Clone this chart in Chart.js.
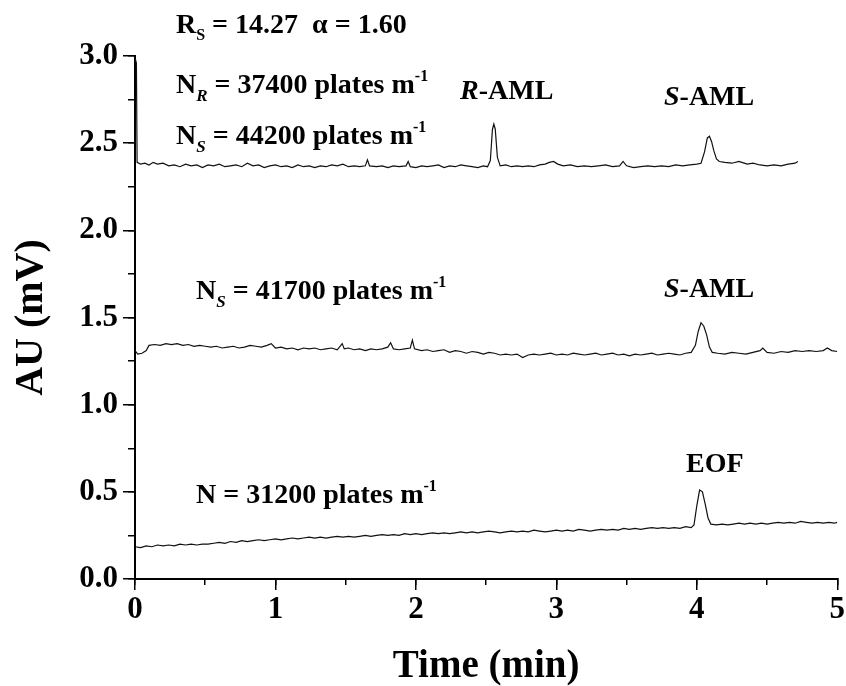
<!DOCTYPE html>
<html>
<head>
<meta charset="utf-8">
<script src="https://cdn.jsdelivr.net/npm/chart.js@4.4.0/dist/chart.umd.min.js"></script>
<style>
  body { margin: 0; background: #fff; }
  #wrap { width: 846px; height: 686px; }
</style>
</head>
<body>
<div id="wrap"><canvas id="chart" width="846" height="686"></canvas></div>
<script>
// electropherogram traces (time in min, AU in mV)

// top trace: R- and S-AML
const topTime = [0, 0.01, 0.015, 0.04, 0.07, 0.10, 0.13, 0.16, 0.20, 0.24, 0.28, 0.32, 0.36, 0.40, 0.44, 0.48,
  0.52, 0.56, 0.60, 0.64, 0.68, 0.72, 0.76, 0.80, 0.84, 0.88, 0.92, 0.96, 1.00, 1.04, 1.08, 1.12, 1.16, 1.20,
  1.24, 1.28, 1.32, 1.36, 1.40, 1.44, 1.48, 1.52, 1.56, 1.60, 1.64, 1.655, 1.67, 1.72, 1.76, 1.80, 1.84, 1.88,
  1.93, 1.945, 1.96, 2.00, 2.04, 2.08, 2.12, 2.16, 2.20, 2.24, 2.28, 2.32, 2.36, 2.40, 2.44, 2.48, 2.51, 2.53,
  2.545, 2.555, 2.565, 2.58, 2.60, 2.64, 2.68, 2.72, 2.76, 2.80, 2.84, 2.88, 2.92, 2.95, 2.98, 3.01, 3.05, 3.10,
  3.15, 3.20, 3.25, 3.30, 3.35, 3.40, 3.45, 3.475, 3.50, 3.55, 3.60, 3.65, 3.70, 3.75, 3.80, 3.85, 3.90, 3.95,
  4.00, 4.03, 4.055, 4.075, 4.09, 4.105, 4.12, 4.14, 4.16, 4.20, 4.25, 4.30, 4.32, 4.36, 4.40, 4.45, 4.50, 4.55,
  4.60, 4.65, 4.70, 4.72];
const topAU = [2.99, 2.96, 2.39, 2.38, 2.385, 2.375, 2.39, 2.38, 2.385, 2.37, 2.375, 2.365, 2.38, 2.37, 2.375, 2.36,
  2.375, 2.37, 2.38, 2.365, 2.37, 2.375, 2.365, 2.385, 2.37, 2.375, 2.36, 2.37, 2.375, 2.365, 2.37, 2.36, 2.375, 2.365,
  2.37, 2.36, 2.37, 2.365, 2.375, 2.37, 2.38, 2.365, 2.37, 2.365, 2.37, 2.405, 2.37, 2.365, 2.37, 2.36, 2.37, 2.365,
  2.37, 2.395, 2.365, 2.36, 2.37, 2.365, 2.37, 2.375, 2.36, 2.37, 2.365, 2.375, 2.37, 2.365, 2.36, 2.37, 2.365, 2.40,
  2.58, 2.61, 2.58, 2.42, 2.37, 2.375, 2.365, 2.37, 2.365, 2.37, 2.365, 2.375, 2.38, 2.39, 2.395, 2.38, 2.37, 2.375,
  2.365, 2.37, 2.365, 2.37, 2.375, 2.365, 2.37, 2.395, 2.37, 2.36, 2.365, 2.37, 2.365, 2.37, 2.365, 2.375, 2.37, 2.375,
  2.38, 2.385, 2.45, 2.53, 2.54, 2.51, 2.46, 2.41, 2.395, 2.39, 2.385, 2.395, 2.39, 2.38, 2.385, 2.375, 2.37, 2.375,
  2.37, 2.38, 2.385, 2.395];

// middle trace: S-AML only
const midTime = [0, 0.02, 0.05, 0.08, 0.10, 0.14, 0.18, 0.22, 0.26, 0.30, 0.34, 0.38, 0.42, 0.46, 0.50, 0.54,
  0.58, 0.62, 0.66, 0.70, 0.74, 0.78, 0.82, 0.86, 0.90, 0.94, 0.97, 1.00, 1.04, 1.08, 1.12, 1.16, 1.20, 1.24,
  1.28, 1.32, 1.36, 1.40, 1.44, 1.475, 1.49, 1.52, 1.56, 1.60, 1.64, 1.68, 1.72, 1.76, 1.80, 1.82, 1.84, 1.88,
  1.92, 1.96, 1.975, 1.99, 2.04, 2.08, 2.12, 2.16, 2.20, 2.24, 2.28, 2.32, 2.36, 2.40, 2.44, 2.48, 2.52, 2.56,
  2.60, 2.64, 2.68, 2.72, 2.76, 2.80, 2.84, 2.88, 2.92, 2.96, 3.00, 3.04, 3.08, 3.12, 3.16, 3.20, 3.24, 3.28,
  3.32, 3.36, 3.40, 3.44, 3.48, 3.52, 3.56, 3.60, 3.64, 3.68, 3.72, 3.76, 3.80, 3.84, 3.88, 3.92, 3.96, 3.99,
  4.01, 4.03, 4.05, 4.07, 4.09, 4.11, 4.15, 4.20, 4.25, 4.30, 4.35, 4.40, 4.45, 4.47, 4.50, 4.55, 4.60, 4.65,
  4.70, 4.75, 4.80, 4.85, 4.90, 4.93, 4.96, 5.00];
const midAU = [1.31, 1.29, 1.295, 1.31, 1.34, 1.345, 1.34, 1.35, 1.345, 1.35, 1.34, 1.345, 1.335, 1.34, 1.335, 1.33,
  1.335, 1.325, 1.33, 1.335, 1.325, 1.33, 1.34, 1.335, 1.33, 1.34, 1.35, 1.325, 1.33, 1.32, 1.325, 1.315, 1.325, 1.32,
  1.325, 1.315, 1.32, 1.325, 1.315, 1.35, 1.32, 1.325, 1.315, 1.32, 1.31, 1.32, 1.315, 1.32, 1.33, 1.355, 1.32, 1.315,
  1.32, 1.325, 1.37, 1.32, 1.31, 1.315, 1.305, 1.31, 1.315, 1.30, 1.31, 1.305, 1.295, 1.305, 1.30, 1.29, 1.30, 1.295,
  1.285, 1.29, 1.285, 1.29, 1.27, 1.285, 1.29, 1.285, 1.29, 1.295, 1.285, 1.29, 1.285, 1.295, 1.29, 1.285, 1.29, 1.295,
  1.285, 1.29, 1.295, 1.285, 1.29, 1.28, 1.29, 1.285, 1.29, 1.295, 1.285, 1.29, 1.295, 1.29, 1.285, 1.295, 1.30, 1.34,
  1.42, 1.47, 1.45, 1.40, 1.33, 1.30, 1.295, 1.29, 1.30, 1.295, 1.29, 1.30, 1.31, 1.325, 1.30, 1.295, 1.305, 1.30,
  1.31, 1.305, 1.31, 1.305, 1.31, 1.325, 1.31, 1.305];

// bottom trace: EOF marker
const lowTime = [0, 0.04, 0.08, 0.12, 0.16, 0.20, 0.24, 0.28, 0.32, 0.36, 0.40, 0.44, 0.48, 0.52, 0.56, 0.60,
  0.64, 0.68, 0.72, 0.76, 0.80, 0.84, 0.88, 0.92, 0.96, 1.00, 1.04, 1.08, 1.12, 1.16, 1.20, 1.24, 1.28, 1.32,
  1.36, 1.40, 1.44, 1.48, 1.52, 1.56, 1.60, 1.64, 1.68, 1.72, 1.76, 1.80, 1.84, 1.88, 1.92, 1.96, 2.00, 2.04,
  2.08, 2.12, 2.16, 2.20, 2.24, 2.28, 2.32, 2.36, 2.40, 2.44, 2.48, 2.52, 2.56, 2.60, 2.64, 2.68, 2.72, 2.76,
  2.80, 2.84, 2.88, 2.92, 2.96, 3.00, 3.04, 3.08, 3.12, 3.16, 3.20, 3.24, 3.28, 3.32, 3.36, 3.40, 3.44, 3.48,
  3.52, 3.56, 3.60, 3.64, 3.68, 3.72, 3.76, 3.80, 3.84, 3.88, 3.92, 3.96, 3.98, 4.00, 4.02, 4.04, 4.06, 4.08,
  4.10, 4.14, 4.18, 4.22, 4.26, 4.30, 4.34, 4.38, 4.42, 4.46, 4.50, 4.54, 4.58, 4.62, 4.66, 4.70, 4.74, 4.78,
  4.82, 4.86, 4.90, 4.94, 4.98, 5.00];
const lowAU = [0.185, 0.18, 0.19, 0.185, 0.195, 0.19, 0.195, 0.19, 0.20, 0.195, 0.20, 0.195, 0.20, 0.20, 0.205, 0.21,
  0.205, 0.215, 0.21, 0.22, 0.215, 0.22, 0.225, 0.22, 0.225, 0.23, 0.225, 0.23, 0.235, 0.23, 0.235, 0.24, 0.235, 0.24,
  0.235, 0.24, 0.245, 0.24, 0.245, 0.24, 0.245, 0.25, 0.245, 0.25, 0.255, 0.25, 0.255, 0.25, 0.26, 0.255, 0.26, 0.255,
  0.26, 0.265, 0.26, 0.265, 0.26, 0.265, 0.27, 0.265, 0.27, 0.265, 0.27, 0.275, 0.27, 0.265, 0.27, 0.275, 0.27, 0.275,
  0.27, 0.28, 0.275, 0.27, 0.275, 0.28, 0.275, 0.28, 0.275, 0.285, 0.28, 0.275, 0.28, 0.285, 0.28, 0.285, 0.28, 0.29,
  0.285, 0.29, 0.285, 0.29, 0.295, 0.29, 0.295, 0.29, 0.295, 0.29, 0.30, 0.295, 0.31, 0.42, 0.51, 0.50, 0.43, 0.35,
  0.315, 0.31, 0.315, 0.31, 0.315, 0.32, 0.315, 0.32, 0.315, 0.32, 0.315, 0.32, 0.325, 0.32, 0.325, 0.32, 0.33, 0.325,
  0.32, 0.325, 0.32, 0.325, 0.32, 0.325];

// axis ticks
const xMajorTicks = [0, 1, 2, 3, 4, 5];
const yMajorTicks = ['0.0', '0.5', '1.0', '1.5', '2.0', '2.5', '3.0'];

const SERIF = '"Liberation Serif", "Times New Roman", serif';

function toPoints(xs, ys) {
  return xs.map((x, i) => ({ x: x, y: ys[i] }));
}

function trace(xs, ys) {
  return {
    data: toPoints(xs, ys),
    borderColor: '#111',
    borderWidth: 1.2,
    pointRadius: 0,
    tension: 0,
    fill: false,
    xAxisID: 'x',
    yAxisID: 'y'
  };
}

// text labels with sub/superscripts, drawn on top of the plot
// parts: [text, style, size, dy]
const notes = [
  { x: 176, y: 33, parts: [['R', 'bold', 28, 0], ['S', 'bold', 16, 7], [' = 14.27  \u03b1 = 1.60', 'bold', 28, 0]] },
  { x: 176, y: 93, parts: [['N', 'bold', 28, 0], ['R', 'italic bold', 17, 8], [' = 37400 plates m', 'bold', 28, 0], ['-1', 'bold', 16, -12]] },
  { x: 176, y: 144, parts: [['N', 'bold', 28, 0], ['S', 'italic bold', 17, 8], [' = 44200 plates m', 'bold', 28, 0], ['-1', 'bold', 16, -12]] },
  { x: 460, y: 99, parts: [['R', 'italic bold', 28, 0], ['-AML', 'bold', 28, 0]] },
  { x: 664, y: 105, parts: [['S', 'italic bold', 28, 0], ['-AML', 'bold', 28, 0]] },
  { x: 196, y: 299, parts: [['N', 'bold', 28, 0], ['S', 'italic bold', 17, 8], [' = 41700 plates m', 'bold', 28, 0], ['-1', 'bold', 16, -12]] },
  { x: 664, y: 297, parts: [['S', 'italic bold', 28, 0], ['-AML', 'bold', 28, 0]] },
  { x: 686, y: 472, parts: [['EOF', 'bold', 28, 0]] },
  { x: 196, y: 503, parts: [['N = 31200 plates m', 'bold', 28, 0], ['-1', 'bold', 16, -12]] }
];

const notesPlugin = {
  id: 'notes',
  afterDraw(chart) {
    const ctx = chart.ctx;
    ctx.save();
    ctx.fillStyle = '#000';
    ctx.textBaseline = 'alphabetic';
    ctx.textAlign = 'left';
    notes.forEach(n => {
      let x = n.x;
      n.parts.forEach(p => {
        ctx.font = p[1] + ' ' + p[2] + 'px ' + SERIF;
        ctx.fillText(p[0], x, n.y + p[3]);
        x += ctx.measureText(p[0]).width;
      });
    });
    ctx.restore();
  }
};

const axisFont = { family: SERIF, size: 31, weight: 'bold' };

const chart = new Chart(document.getElementById('chart').getContext('2d'), {
  type: 'line',
  data: {
    datasets: [trace(topTime, topAU), trace(midTime, midAU), trace(lowTime, lowAU)]
  },
  options: {
    responsive: false,
    animation: false,
    layout: { padding: { top: 56, right: 8, left: 0, bottom: 0 } },
    plugins: { legend: { display: false }, tooltip: { enabled: false } },
    scales: {
      x: {
        type: 'linear', position: 'bottom', weight: 1,
        min: 0, max: 5,
        border: { color: '#000', width: 2 },
        grid: { drawOnChartArea: false, color: '#000', lineWidth: 1.5, tickLength: 11 },
        ticks: {
          stepSize: 1, color: '#000', font: axisFont, padding: 1, maxRotation: 0,
          callback: (v) => xMajorTicks.includes(v) ? String(v) : ''
        },
        title: { display: true, text: 'Time (min)', color: '#000',
          font: { family: SERIF, size: 39, weight: 'bold', lineHeight: 1 }, padding: { top: 0, bottom: 0 } },
        afterFit: (s) => { s.height = 107; }
      },
      xMinor: {
        type: 'linear', position: 'bottom', weight: 0,
        min: 0, max: 5,
        border: { color: '#000', width: 2 },
        grid: { drawOnChartArea: false, color: '#000', lineWidth: 1.5, tickLength: 6 },
        ticks: { stepSize: 0.5, display: false },
        afterFit: (s) => { s.height = 0; }
      },
      y: {
        type: 'linear', position: 'left', weight: 1,
        min: 0, max: 3,
        border: { color: '#000', width: 2 },
        grid: { drawOnChartArea: false, color: '#000', lineWidth: 1.5, tickLength: 12 },
        ticks: {
          stepSize: 0.5, color: '#000', font: axisFont, padding: 5,
          callback: (v) => yMajorTicks[Math.round(v * 2)]
        },
        title: { display: true, text: 'AU (mV)', color: '#000', align: 'center',
          font: { family: SERIF, size: 40, weight: 'bold', lineHeight: 1 }, padding: { top: 12, bottom: 0 } },
        afterFit: (s) => { s.width = 135; }
      },
      yMinor: {
        type: 'linear', position: 'left', weight: 0,
        min: 0, max: 3,
        border: { color: '#000', width: 2 },
        grid: { drawOnChartArea: false, color: '#000', lineWidth: 1.5, tickLength: 7 },
        ticks: { stepSize: 0.25, display: false },
        afterFit: (s) => { s.width = 0; }
      }
    }
  },
  plugins: [notesPlugin]
});
</script>
</body>
</html>
